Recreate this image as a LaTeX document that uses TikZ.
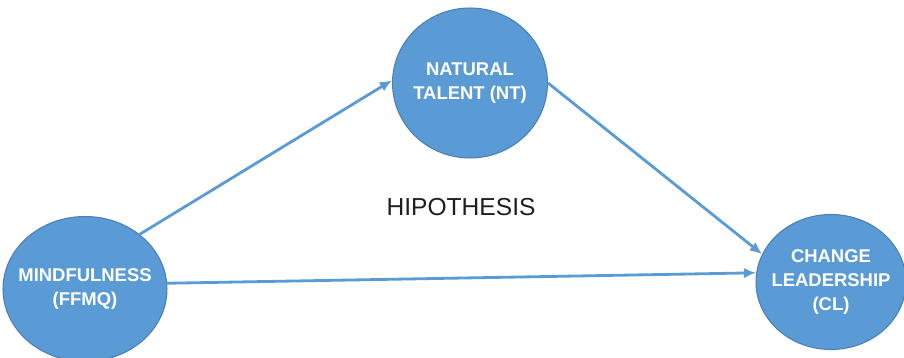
\documentclass[tikz,border=0pt]{standalone}
\usepackage{fontspec}
\setmainfont{Liberation Sans}
\usepackage{xcolor}
\usetikzlibrary{shapes.geometric, arrows.meta}

\definecolor{nodeblue}{HTML}{5B9BD5}
\definecolor{nodeedge}{HTML}{4A7FB5}
\definecolor{hypgray}{HTML}{1E1E1E}

\begin{document}
\begin{tikzpicture}[
    x=0.02cm, y=-0.02cm,
    construct/.style={ellipse, draw=nodeedge, line width=0.6pt, fill=nodeblue,
                      text=white, inner xsep=-0.3cm, inner ysep=0pt, align=center,
                      font=\fontsize{10.5}{13.6}\selectfont\bfseries},
    arr/.style={-{Latex[length=7pt, width=6pt]}, draw=nodeblue, line width=1.6pt},
    hyp/.style={font=\fontsize{14}{16}\selectfont, text=hypgray}
]
\useasboundingbox (0,0) rectangle (904,358);

\node[construct, minimum width=3.28cm, minimum height=2.9cm] (mind) at (85, 289)
    {MINDFULNESS\\(FFMQ)};
\node[construct, minimum width=3.1cm, minimum height=3.0cm] (nt) at (470, 83)
    {NATURAL\\TALENT (NT)};
\node[construct, minimum width=3.0cm, minimum height=2.7cm] (cl) at (831, 282)
    {CHANGE\\LEADERSHIP\\(CL)};

\node[hyp] (hypo) at (461, 207) {HIPOTHESIS};

% Mindfulness --> Natural Talent
\draw[arr] (mind.45) -- (nt.178);

% Natural Talent --> Change Leadership
\draw[arr] (nt.0) -- (cl.158);

% Mindfulness --> Change Leadership
\draw[arr] (mind.4) -- (cl.173);

\end{tikzpicture}
\end{document}
